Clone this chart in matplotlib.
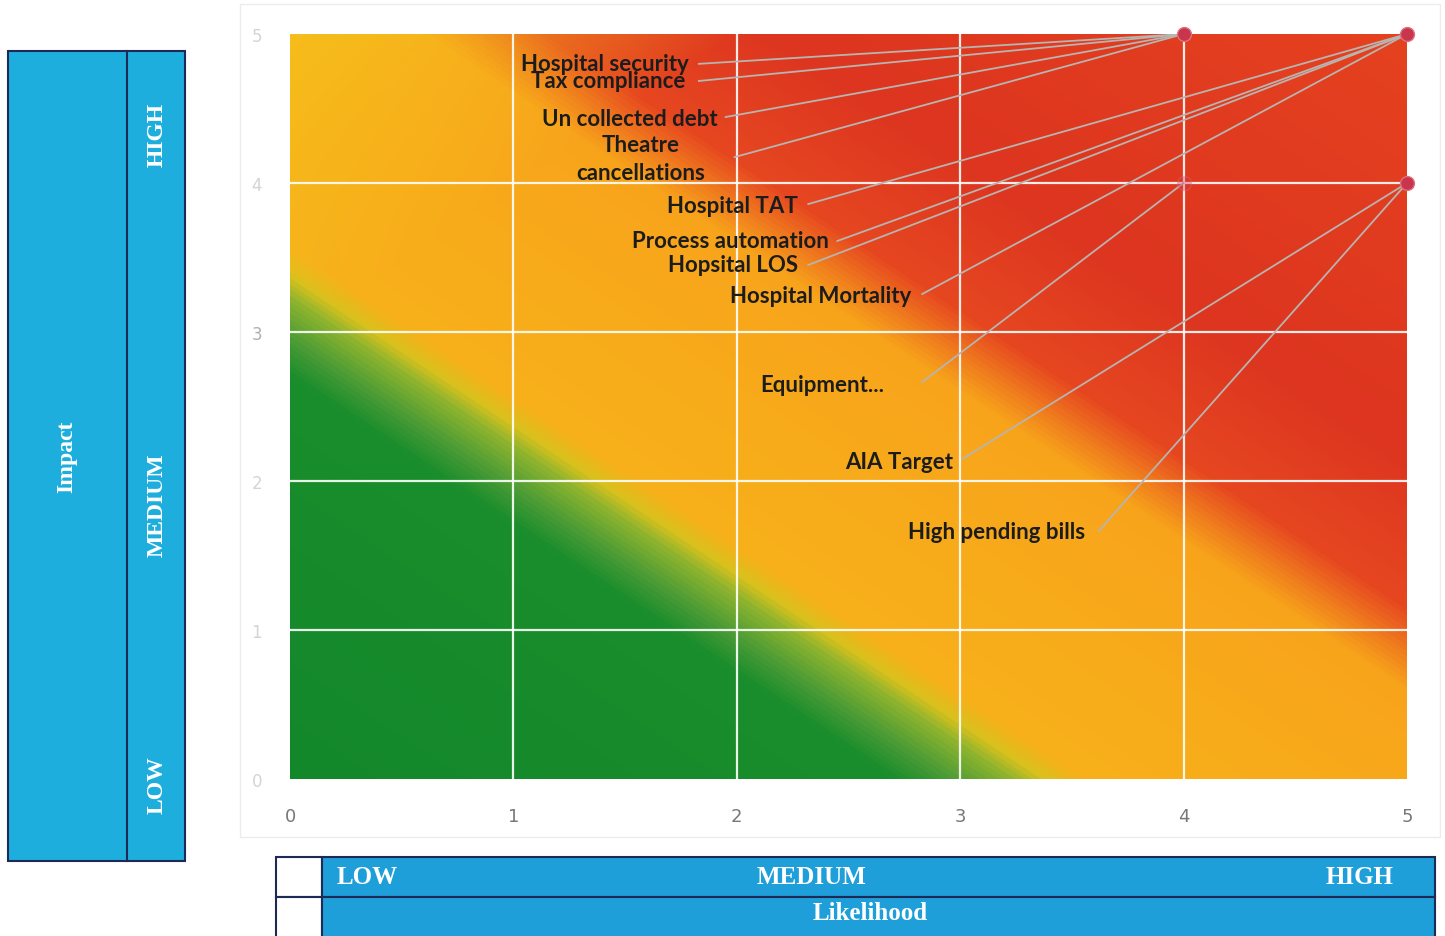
import numpy as np
import matplotlib.pyplot as plt
from matplotlib.colors import LinearSegmentedColormap, to_rgb
from matplotlib.patches import Rectangle

# risk register: name, likelihood, impact
risk_names = ['Hospital security', 'Tax compliance', 'Un collected debt', 'Theatre\ncancellations',
              'Hospital TAT', 'Process automation', 'Hopsital LOS', 'Hospital Mortality',
              'Equipment...', 'AIA Target', 'High pending bills']
likelihood = [4, 4, 4, 4, 5, 5, 5, 5, 4, 5, 5]
impact = [5, 5, 5, 5, 5, 5, 5, 5, 4, 4, 4]

ticks = [0, 1, 2, 3, 4, 5]
impact_levels = ['HIGH', 'MEDIUM', 'LOW']
likelihood_levels = ['LOW', 'MEDIUM', 'HIGH']

# where the labels sit (data coords) and alignment
label_xy = [(1.785, 4.80), (1.77, 4.685), (1.915, 4.436), (1.57, 4.165),
            (2.275, 3.852), (2.41, 3.611), (2.275, 3.450), (2.78, 3.242),
            (2.66, 2.651), (2.97, 2.134), (3.56, 1.658)]
label_ha = ['right', 'right', 'right', 'center', 'right', 'right', 'right', 'right',
            'right', 'right', 'right']
line_start = [(1.83, 4.80), (1.83, 4.685), (1.95, 4.443), (1.99, 4.174),
              (2.32, 3.859), (2.45, 3.611), (2.32, 3.450), (2.83, 3.255),
              (2.83, 2.664), (3.01, 2.148), (3.62, 1.664)]

fig = plt.figure(figsize=(14.45, 9.37), dpi=100)
ax = fig.add_axes([0.2007, 0.1676, 0.773, 0.795])

# background risk gradient
gx, gy = np.meshgrid(np.linspace(0, 5, 600), np.linspace(0, 5, 600))
s = gx + gy
stops = [(0.0, '#13882b'), (0.27, '#1a8d2c'), (0.295, '#4c9c36'), (0.322, '#8fb42e'),
         (0.337, '#d9c11d'), (0.355, '#f7b01a'), (0.50, '#f8a81b'), (0.56, '#f8a41b'),
         (0.585, '#f07c1e'), (0.615, '#e64720'), (0.72, '#dd3520'), (1.0, '#e5421f')]
cmap = LinearSegmentedColormap.from_list('risk', stops)
rgb = cmap(s / 10.0)[..., :3]
w = 0.75 * np.clip((gy - gx - 3.0) / 2.0, 0, 1) * (s > 3.4)
yellow = np.array(to_rgb('#f6c41b'))
rgb = rgb * (1 - w[..., None]) + yellow * w[..., None]
ax.imshow(rgb, extent=[0, 5, 0, 5], origin='lower', aspect='auto', zorder=0)

for v in [1, 2, 3, 4]:
    ax.axhline(v, color='white', lw=1.6, alpha=0.9, zorder=1)
    ax.axvline(v, color='white', lw=1.6, alpha=0.9, zorder=1)

ax.set_xlim(0, 5)
ax.set_ylim(0, 5)
ax.set_xticks(ticks)
ax.set_yticks(ticks)
ax.tick_params(length=0)
ax.tick_params(axis='x', pad=20, labelsize=13, labelcolor='#777777')
ax.tick_params(axis='y', pad=20, labelsize=12, labelcolor='#d4d4d4')
ax.get_yticklabels()[3].set_color('#b0b0b0')
for sp in ax.spines.values():
    sp.set_visible(False)

# leader lines and labels
for name, lx, ly, pos, ha, st in zip(risk_names, likelihood, impact, label_xy, label_ha, line_start):
    ax.plot([st[0], lx], [st[1], ly], color='#b8b4b0', lw=1.3, zorder=2)
    ax.text(pos[0], pos[1], name, ha=ha, va='center', fontsize=16, fontweight='bold',
            family='Lato', color='#1c1c1c', linespacing=1.4, zorder=4)

pts = sorted(set(zip(likelihood, impact)))
for px, py in pts:
    a = 0.35 if (px, py) == (4, 4) else 1.0
    ax.plot(px, py, 'o', ms=10, mfc='#c8354c', mec='#e07080', mew=1, alpha=a,
            clip_on=False, zorder=5)

# faint outer frame of the chart area
fig.add_artist(Rectangle((240 / 1445, 1 - 838 / 937), 1200 / 1445, 833 / 937,
                         transform=fig.transFigure, fill=False, ec='#ececec', lw=1))

# left impact panel
blue = '#1eaedd'
edge = '#1d2a55'
fig.add_artist(Rectangle((8 / 1445, 1 - 862 / 937), 177 / 1445, 810 / 937,
                         transform=fig.transFigure, fc=blue, ec=edge, lw=1.5))
fig.add_artist(plt.Line2D([127 / 1445, 127 / 1445], [1 - 862 / 937, 1 - 52 / 937],
                          transform=fig.transFigure, color=edge, lw=1.5))
fig.text(67 / 1445, 1 - 457 / 937, 'Impact', rotation=90, ha='center', va='center',
         color='white', fontsize=17, fontweight='bold', family='Liberation Serif')
for lab, py in zip(impact_levels, [135, 505, 785]):
    fig.text(157 / 1445, 1 - py / 937, lab, rotation=90, ha='center', va='center',
             color='white', fontsize=17, fontweight='bold', family='Liberation Serif')

# bottom likelihood panel
blue2 = '#1e9fd9'
for y0, y1 in [(858, 898), (898, 940)]:
    fig.add_artist(Rectangle((276 / 1445, 1 - y1 / 937), 46 / 1445, (y1 - y0) / 937,
                             transform=fig.transFigure, fc='white', ec=edge, lw=1.5))
    fig.add_artist(Rectangle((322 / 1445, 1 - y1 / 937), 1113 / 1445, (y1 - y0) / 937,
                             transform=fig.transFigure, fc=blue2, ec=edge, lw=1.5))
for lab, px in zip(likelihood_levels, [367, 812, 1360]):
    fig.text(px / 1445, 1 - 878 / 937, lab, ha='center', va='center', color='white',
             fontsize=18, fontweight='bold', family='Liberation Serif')
fig.text(870 / 1445, 1 - 914 / 937, 'Likelihood', ha='center', va='center', color='white',
         fontsize=18, fontweight='bold', family='Liberation Serif')

fig.savefig('out.png', dpi=100)
